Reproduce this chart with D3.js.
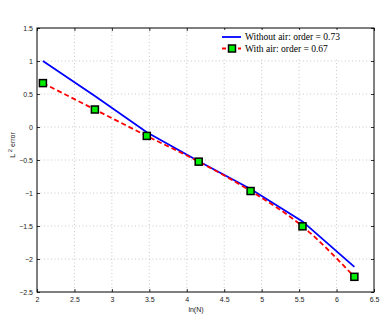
<!DOCTYPE html>
<html>
<head>
<meta charset="utf-8">
<script src="https://cdn.jsdelivr.net/npm/d3@7"></script>
<style>
  body { margin: 0; background: #fff; }
  svg { display: block; }
</style>
</head>
<body>
<div id="chart"></div>
<script>
// ln(N) for N = 8 .. 512
const lnN = [2.079, 2.773, 3.466, 4.159, 4.852, 5.545, 6.238];
const withoutAir = [1.0, 0.47, -0.08, -0.52, -0.94, -1.43, -2.12];
const withAir = [0.665, 0.265, -0.135, -0.525, -0.97, -1.505, -2.27];
const xTicks = [2, 2.5, 3, 3.5, 4, 4.5, 5, 5.5, 6, 6.5];
const yTicks = [1.5, 1, 0.5, 0, -0.5, -1, -1.5, -2, -2.5];
const legendLabels = ["Without air: order = 0.73", "With air: order = 0.67"];

const width = 382, height = 316;
const margin = { top: 28, right: 8, bottom: 24, left: 37 };

const x = d3.scaleLinear().domain([2, 6.5]).range([margin.left, width - margin.right]);
const y = d3.scaleLinear().domain([-2.5, 1.5]).range([height - margin.bottom, margin.top]);

const svg = d3.select("#chart").append("svg")
    .attr("width", width).attr("height", height)
    .attr("viewBox", [0, 0, width, height]);

const fmt = d => (d < 0 ? "\u2212" : "") + Math.abs(d);

// grid
svg.append("g")
    .selectAll("line").data(xTicks.slice(1, -1)).join("line")
    .attr("x1", d => x(d)).attr("x2", d => x(d))
    .attr("y1", y(1.5)).attr("y2", y(-2.5))
    .attr("stroke", "#bbb").attr("stroke-width", 0.8).attr("stroke-dasharray", "1,2.5");
svg.append("g")
    .selectAll("line").data(yTicks.slice(1, -1)).join("line")
    .attr("x1", x(2)).attr("x2", x(6.5))
    .attr("y1", d => y(d)).attr("y2", d => y(d))
    .attr("stroke", "#bbb").attr("stroke-width", 0.8).attr("stroke-dasharray", "1,2.5");

// axes, ticks inward on all sides
const tickLen = 3;
svg.append("g").attr("transform", `translate(0,${y(-2.5)})`)
    .call(d3.axisBottom(x).tickValues(xTicks).tickFormat(fmt).tickSize(-tickLen).tickPadding(5))
    .call(g => g.select(".domain").remove());
svg.append("g").attr("transform", `translate(0,${y(1.5)})`)
    .call(d3.axisTop(x).tickValues(xTicks).tickFormat("").tickSize(-tickLen))
    .call(g => g.select(".domain").remove());
svg.append("g").attr("transform", `translate(${x(2)},0)`)
    .call(d3.axisLeft(y).tickValues(yTicks).tickFormat(fmt).tickSize(-tickLen).tickPadding(4))
    .call(g => g.select(".domain").remove());
svg.append("g").attr("transform", `translate(${x(6.5)},0)`)
    .call(d3.axisRight(y).tickValues(yTicks).tickFormat("").tickSize(-tickLen))
    .call(g => g.select(".domain").remove());

svg.selectAll(".tick line").attr("stroke", "#000").attr("stroke-width", 0.8);
svg.selectAll(".tick text")
    .attr("font-family", "Liberation Sans, Arial, sans-serif")
    .attr("font-size", 7).attr("fill", "#222");

svg.append("rect")
    .attr("x", x(2)).attr("y", y(1.5))
    .attr("width", x(6.5) - x(2)).attr("height", y(-2.5) - y(1.5))
    .attr("fill", "none").attr("stroke", "#000").attr("stroke-width", 1);

// lines
const line = d3.line().x(d => x(d[0])).y(d => y(d[1]));
const curve = d3.line().x(d => x(d[0])).y(d => y(d[1])).curve(d3.curveMonotoneX);

svg.append("path")
    .datum(lnN.map((v, i) => [v, withoutAir[i]]))
    .attr("d", line)
    .attr("fill", "none").attr("stroke", "#0000ff").attr("stroke-width", 1.8);

svg.append("path")
    .datum(lnN.map((v, i) => [v, withAir[i]]))
    .attr("d", curve)
    .attr("fill", "none").attr("stroke", "#ff0000").attr("stroke-width", 1.8)
    .attr("stroke-dasharray", "5,3");

svg.append("g")
    .selectAll("rect").data(lnN.map((v, i) => [v, withAir[i]])).join("rect")
    .attr("x", d => x(d[0]) - 3.5).attr("y", d => y(d[1]) - 3.5)
    .attr("width", 7).attr("height", 7)
    .attr("fill", "#00ee00").attr("stroke", "#000").attr("stroke-width", 1.5);

// legend
const lg = svg.append("g");
lg.append("rect").attr("x", 218).attr("y", 30).attr("width", 154).attr("height", 27).attr("fill", "#fff");
lg.append("line").attr("x1", 222).attr("x2", 241).attr("y1", 37).attr("y2", 37)
    .attr("stroke", "#0000ff").attr("stroke-width", 1.8);
lg.append("line").attr("x1", 222).attr("x2", 241).attr("y1", 48.5).attr("y2", 48.5)
    .attr("stroke", "#ff0000").attr("stroke-width", 1.8).attr("stroke-dasharray", "4,4");
lg.append("rect").attr("x", 228.5).attr("y", 45).attr("width", 7).attr("height", 7)
    .attr("fill", "#00ee00").attr("stroke", "#000").attr("stroke-width", 1.5);
lg.selectAll("text").data(legendLabels).join("text")
    .attr("x", 245).attr("y", (d, i) => 40 + i * 11.5)
    .attr("font-family", "Liberation Serif, Times New Roman, serif")
    .attr("font-size", 9.5).attr("fill", "#000")
    .text(d => d);

// axis labels
svg.append("text")
    .attr("x", 196).attr("y", 312).attr("text-anchor", "middle")
    .attr("font-family", "Liberation Sans, Arial, sans-serif").attr("font-size", 7)
    .attr("fill", "#222").text("ln(N)");

const yl = svg.append("text")
    .attr("transform", "translate(15,145) rotate(-90)").attr("text-anchor", "middle")
    .attr("font-family", "Liberation Sans, Arial, sans-serif").attr("font-size", 7)
    .attr("fill", "#222");
yl.append("tspan").text("L ");
yl.append("tspan").attr("dy", -3).attr("font-size", 6).text("2");
yl.append("tspan").attr("dy", 3).text(" error");
</script>
</body>
</html>
